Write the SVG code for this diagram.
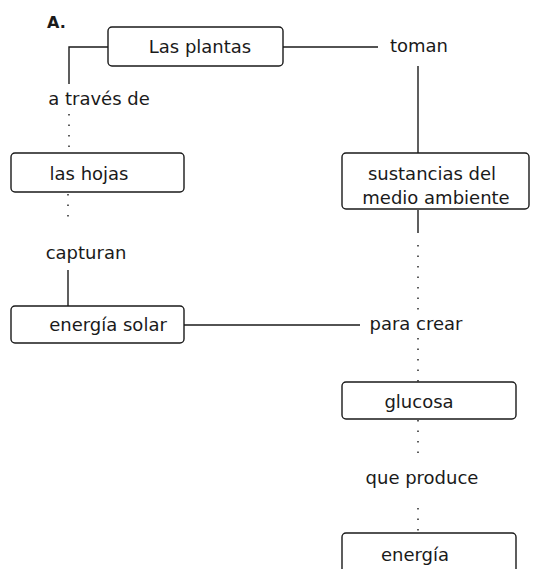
<svg xmlns="http://www.w3.org/2000/svg" width="535" height="569" viewBox="0 0 535 569">
  <style>
    .box { fill: #ffffff; stroke: #1a1a1a; stroke-width: 1.4; }
    .lbl { font-family: "DejaVu Sans", "Noto Sans", sans-serif; font-size: 18px; fill: #1a1a1a; text-anchor: middle; }
    .link { fill: none; stroke: #1a1a1a; stroke-width: 1.4; }
    .faint { stroke-dasharray: 1.5 9; }
  </style>
  <rect width="535" height="569" fill="#ffffff"/>

  <text x="47" y="28" font-family="DejaVu Sans, sans-serif" font-size="16" font-weight="bold" fill="#1a1a1a">A.</text>

  <!-- connectors -->
  <g id="connectors">
    <polyline class="link" points="108,47 69,47 69,84"/>
    <line class="link" x1="283" y1="47" x2="378" y2="47"/>
    <line class="link" x1="418" y1="66" x2="418" y2="153"/>
    <line class="link faint" x1="69" y1="114" x2="69" y2="153"/>
    <line class="link faint" x1="68" y1="194" x2="68" y2="218"/>
    <line class="link" x1="68" y1="270" x2="68" y2="306"/>
    <line class="link" x1="184" y1="325" x2="360" y2="325"/>
    <line class="link" x1="418" y1="210" x2="418" y2="233"/>
    <line class="link faint" x1="418" y1="245" x2="418" y2="310"/>
    <line class="link faint" x1="418" y1="338" x2="418" y2="382"/>
    <line class="link faint" x1="418" y1="420" x2="418" y2="456"/>
    <line class="link faint" x1="418" y1="508" x2="418" y2="533"/>
  </g>

  <!-- concept nodes -->
  <g id="node-plantas">
    <rect class="box" x="108" y="27" width="175" height="39" rx="4"/>
    <text class="lbl" x="200" y="53">Las plantas</text>
  </g>
  <g id="node-hojas">
    <rect class="box" x="11" y="153" width="173" height="39" rx="4"/>
    <text class="lbl" x="89" y="180">las hojas</text>
  </g>
  <g id="node-energia-solar">
    <rect class="box" x="11" y="306" width="173" height="37" rx="4"/>
    <text class="lbl" x="108" y="331">energía solar</text>
  </g>
  <g id="node-sustancias">
    <rect class="box" x="342" y="153" width="187" height="56" rx="4"/>
    <text class="lbl" x="432" y="180">sustancias del</text>
    <text class="lbl" x="436" y="204">medio ambiente</text>
  </g>
  <g id="node-glucosa">
    <rect class="box" x="342" y="382" width="174" height="37" rx="4"/>
    <text class="lbl" x="419" y="408">glucosa</text>
  </g>
  <g id="node-energia">
    <rect class="box" x="342" y="533" width="174" height="45" rx="4"/>
    <text class="lbl" x="415" y="561">energía</text>
  </g>

  <!-- linking words -->
  <g id="link-labels">
    <text class="lbl" x="419" y="52">toman</text>
    <text class="lbl" x="99" y="105">a través de</text>
    <text class="lbl" x="86" y="259">capturan</text>
    <text class="lbl" x="416" y="330">para crear</text>
    <text class="lbl" x="422" y="484">que produce</text>
  </g>
</svg>
